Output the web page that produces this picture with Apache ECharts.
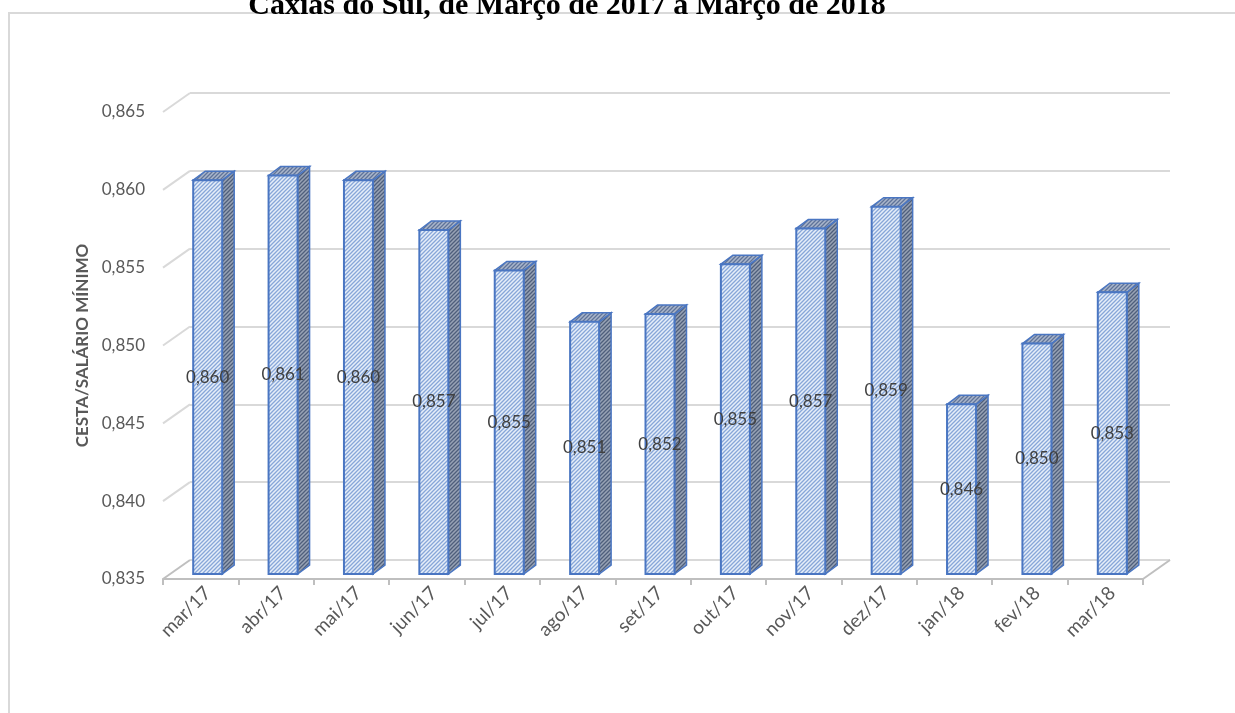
<!DOCTYPE html>
<html>
<head>
<meta charset="utf-8">
<script src="https://cdn.jsdelivr.net/npm/echarts@6/dist/echarts.min.js"></script>
<style>
  html, body { margin: 0; padding: 0; background: #fff; }
  #chart { width: 1235px; height: 713px; }
</style>
</head>
<body>
<div id="chart"></div>
<script>
// dados
const meses = ['mar/17', 'abr/17', 'mai/17', 'jun/17', 'jul/17', 'ago/17', 'set/17',
  'out/17', 'nov/17', 'dez/17', 'jan/18', 'fev/18', 'mar/18'];
const razao = [0.8603, 0.8606, 0.8603, 0.8571, 0.8545, 0.8512, 0.8517,
  0.8549, 0.8572, 0.8586, 0.8459, 0.8498, 0.8531];
const rotulos = ['0,860', '0,861', '0,860', '0,857', '0,855', '0,851', '0,852',
  '0,855', '0,857', '0,859', '0,846', '0,850', '0,853'];
const yTicks = [0.835, 0.840, 0.845, 0.850, 0.855, 0.860, 0.865];

const titulo = 'Caxias do Sul, de Março de 2017 a Março de 2018';

// profundidade do "3D"
const DX = 27, DY = -19;
const BAR_OX = 7, BAR_OY = -5, BAR_W = 29, BAR_DX = 12, BAR_DY = -9;

function hatch(bg, line, size) {
  const c = document.createElement('canvas');
  c.width = size; c.height = size;
  const ctx = c.getContext('2d');
  ctx.fillStyle = bg;
  ctx.fillRect(0, 0, size, size);
  ctx.strokeStyle = line;
  ctx.lineWidth = 1.3;
  ctx.beginPath();
  ctx.moveTo(0, size); ctx.lineTo(size, 0);
  ctx.moveTo(-size / 2, size / 2); ctx.lineTo(size / 2, -size / 2);
  ctx.moveTo(size / 2, size * 1.5); ctx.lineTo(size * 1.5, size / 2);
  ctx.stroke();
  return { image: c, repeat: 'repeat' };
}

const frontFill = hatch('#e6eef9', '#87a6d8', 4);
const sideFill = hatch('#98a3b5', '#4f5f7c', 4);
const topFill = hatch('#aab6cb', '#5f7399', 4);
const edge = '#4a76c2';

const chart = echarts.init(document.getElementById('chart'));

function fmt(v) {
  return v.toFixed(3).replace('.', ',');
}

chart.setOption({
  animation: false,
  textStyle: { fontFamily: 'Lato' },
  graphic: [
    {
      type: 'rect',
      shape: { x: 9, y: 13, width: 1400, height: 900 },
      style: { fill: null, stroke: '#d9d9d9', lineWidth: 2 },
      z: -10
    },
    {
      type: 'text',
      x: 567, y: 21,
      style: {
        text: titulo,
        font: 'bold 30px "Liberation Serif"',
        fill: '#000',
        align: 'center',
        verticalAlign: 'bottom'
      }
    }
  ],
  grid: [
    { left: 163, right: 92, top: 112, bottom: 134 },
    { left: 163 + DX, right: 92 - DX, top: 112 + DY, bottom: 134 - DY },
    // só para os rótulos do eixo x, um pouco deslocados
    { left: 163 + BAR_OX, right: 92 - BAR_OX, top: 112, bottom: 134 }
  ],
  xAxis: [
    {
      type: 'category',
      data: meses,
      gridIndex: 0,
      axisLine: { show: true, lineStyle: { color: '#bfbfbf', width: 2 } },
      axisTick: { show: true, length: 6, lineStyle: { color: '#bfbfbf', width: 2 } },
      axisLabel: { show: false }
    },
    {
      type: 'category',
      data: meses,
      gridIndex: 1,
      show: false
    },
    {
      type: 'category',
      data: meses,
      gridIndex: 2,
      axisLine: { show: false },
      axisTick: { show: false },
      axisLabel: { rotate: 45, margin: 11, fontSize: 19, color: '#595959', fontFamily: 'Lato' }
    }
  ],
  yAxis: [
    {
      type: 'value',
      gridIndex: 0,
      min: 0.835, max: 0.865, interval: 0.005,
      name: 'CESTA/SALÁRIO MÍNIMO',
      nameLocation: 'middle',
      nameGap: 72,
      nameRotate: 90,
      nameTextStyle: { fontSize: 17, fontWeight: 'bold', color: '#595959', fontFamily: 'Lato' },
      axisLine: { show: false },
      axisTick: { show: false },
      splitLine: { show: false },
      axisLabel: { formatter: fmt, fontSize: 17, color: '#595959', margin: 18, fontFamily: 'Lato' }
    },
    {
      type: 'value',
      gridIndex: 1,
      min: 0.835, max: 0.865, interval: 0.005,
      axisLine: { show: false },
      axisTick: { show: false },
      axisLabel: { show: false },
      splitLine: { show: true, lineStyle: { color: '#d9d9d9', width: 2 } }
    },
    {
      type: 'value',
      gridIndex: 2,
      min: 0.835, max: 0.865, interval: 0.005,
      show: false
    }
  ],
  series: [
    {
      // arestas laterais das paredes
      type: 'custom',
      xAxisIndex: 0, yAxisIndex: 0,
      data: yTicks,
      silent: true,
      z: 1,
      renderItem: function (params, api) {
        const cs = params.coordSys;
        const v = api.value(0);
        const y = api.coord([0, v])[1];
        const children = [{
          type: 'line',
          shape: { x1: cs.x, y1: y, x2: cs.x + DX, y2: y + DY },
          style: { stroke: v === 0.835 ? '#bfbfbf' : '#d9d9d9', lineWidth: 2 }
        }];
        if (v === 0.835) {
          children.push({
            type: 'line',
            shape: { x1: cs.x + cs.width, y1: y, x2: cs.x + cs.width + DX, y2: y + DY },
            style: { stroke: '#bfbfbf', lineWidth: 2 }
          });
        }
        return { type: 'group', children: children };
      },
      encode: { y: 0 }
    },
    {
      type: 'custom',
      xAxisIndex: 0, yAxisIndex: 0,
      data: razao.map(function (v, i) { return [i, v]; }),
      z: 5,
      renderItem: function (params, api) {
        const i = api.value(0);
        const v = api.value(1);
        const top = api.coord([i, v]);
        const base = api.coord([i, 0.835]);
        const cx = top[0] + BAR_OX;
        const yT = top[1] + BAR_OY;
        const yB = base[1] + BAR_OY;
        const xL = cx - BAR_W / 2, xR = cx + BAR_W / 2;
        return {
          type: 'group',
          children: [
            {
              type: 'polygon',
              shape: { points: [[xR, yT], [xR + BAR_DX, yT + BAR_DY], [xR + BAR_DX, yB + BAR_DY], [xR, yB]] },
              style: { fill: sideFill, stroke: edge, lineWidth: 1.5 }
            },
            {
              type: 'polygon',
              shape: { points: [[xL, yT], [xL + BAR_DX, yT + BAR_DY], [xR + BAR_DX, yT + BAR_DY], [xR, yT]] },
              style: { fill: topFill, stroke: edge, lineWidth: 1.5 }
            },
            {
              type: 'rect',
              shape: { x: xL, y: yT, width: BAR_W, height: yB - yT },
              style: { fill: frontFill, stroke: edge, lineWidth: 2 }
            },
            {
              type: 'text',
              x: cx, y: (yT + yB) / 2,
              style: {
                text: rotulos[i],
                font: '17px Lato',
                fill: '#404040',
                align: 'center',
                verticalAlign: 'middle'
              }
            }
          ]
        };
      },
      encode: { x: 0, y: 1 }
    }
  ]
});
</script>
</body>
</html>
